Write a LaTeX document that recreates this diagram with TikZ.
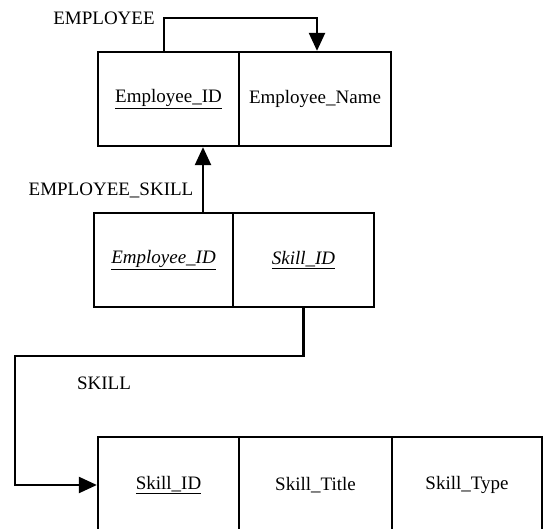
\documentclass[tikz,border=0pt]{standalone}
\usepackage{fontspec}
\setmainfont{Liberation Serif}
\usetikzlibrary{arrows.meta}
\begin{document}
\begin{tikzpicture}[x=1pt,y=-1pt,
  every node/.style={font=\fontsize{19}{22}\selectfont},
  cell/.style={draw,line width=2.3pt,inner sep=0pt,anchor=center},
  label/.style={inner sep=0pt,anchor=center},
  link/.style={line width=2.3pt,-{Triangle[length=18pt,width=16pt]}}]
\useasboundingbox (0,0) rectangle (544,529);
\fill[white] (0,0) rectangle (544,529);
\begin{scope}
\clip (0,0) rectangle (544,529);
% EMPLOYEE table
\node[cell,minimum width=141pt,minimum height=94pt] (eid) at (168.5,99) {\underline{Employee\_ID}};
\node[cell,minimum width=152pt,minimum height=94pt] (ename) at (315,99) {Employee\_Name};
% EMPLOYEE_SKILL table
\node[cell,minimum width=139pt,minimum height=94pt] (seid) at (163.5,260) {\underline{\itshape Employee\_ID}};
\node[cell,minimum width=141pt,minimum height=94pt] (ssid) at (303.5,260) {\underline{\itshape Skill\_ID}};
% SKILL table (runs past the lower edge)
\node[cell,minimum width=141pt,minimum height=96pt] (kid) at (168.5,485) {\underline{Skill\_ID}};
\node[cell,minimum width=153pt,minimum height=96pt] (ktitle) at (315.5,485) {Skill\_Title};
\node[cell,minimum width=150pt,minimum height=96pt] (ktype) at (467,485) {Skill\_Type};
\end{scope}
% table names
\node[label] (lemp) at (104,18) {EMPLOYEE};
\node[label] (lsk) at (111,190) {EMPLOYEE\_SKILL};
\node[label] (lskill) at (104,383) {SKILL};
% dependencies
\coordinate (ltop) at (164,18);
\coordinate (src) at ([xshift=-4.5pt]eid.north);
\coordinate (tgt) at ([xshift=2pt]ename.north);
\coordinate (bend) at (15,356);
\coordinate (up) at (203,213);
\draw[link] (src) -- (src |- ltop) -| (tgt);
\draw[link] (up) -- (up |- eid.south);
\draw[link] (ssid.south) |- (bend) |- (kid.west);
\end{tikzpicture}
\end{document}
